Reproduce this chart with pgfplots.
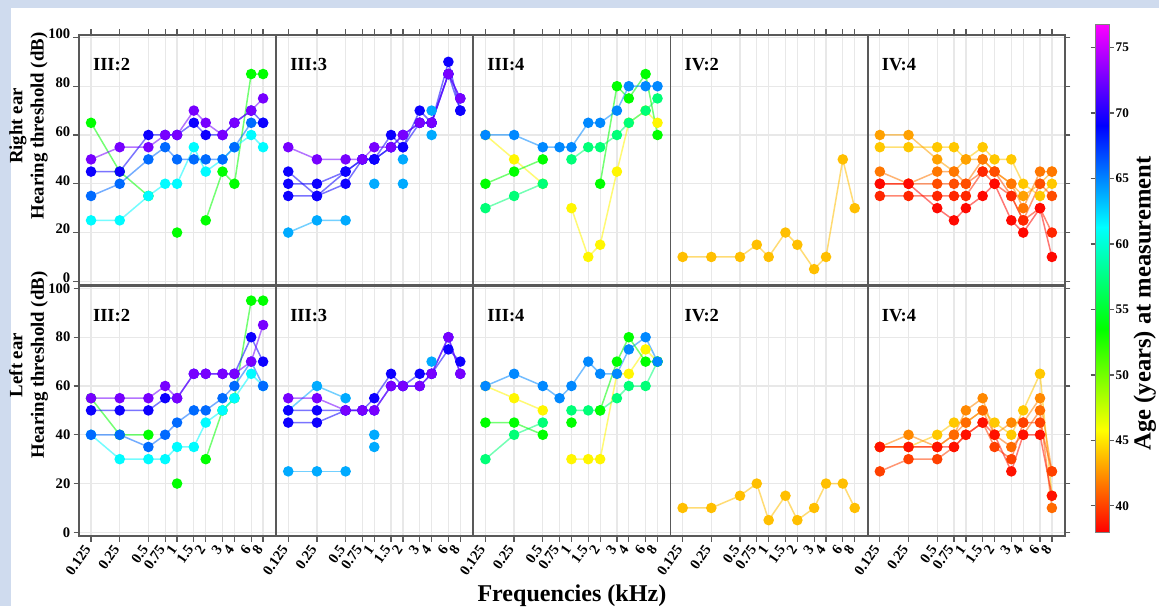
\documentclass[border=0pt]{standalone}
\usepackage{fontspec}
\setmainfont{Liberation Serif}
\usepackage{pgfplots}
\usepackage{pgfplotstable}
\pgfplotsset{compat=1.18}

\definecolor{bgblue}{HTML}{CFDBEE}
% series colours: the age's hue on the rainbow scale
\definecolor{hG}{HTML}{00FF00}
\definecolor{hC}{HTML}{00FBFF}
\definecolor{hB}{HTML}{006AFF}
\definecolor{hD}{HTML}{0D00FF}
\definecolor{hP}{HTML}{7700FF}
\definecolor{hL}{HTML}{00AAFF}
\definecolor{hM}{HTML}{0088FF}
\definecolor{hY}{HTML}{FFF600}
\definecolor{hS}{HTML}{00FF77}
\definecolor{hA}{HTML}{FFBF00}
\definecolor{r1}{HTML}{FFC800}
\definecolor{r2}{HTML}{FFA100}
\definecolor{r3}{HTML}{FF7700}
\definecolor{r4}{HTML}{FF4D00}
\definecolor{r5}{HTML}{FF2600}
\definecolor{r6}{HTML}{FF0800}
\definecolor{l2}{HTML}{FF8800}
\definecolor{l3}{HTML}{FF6A00}
\definecolor{l4}{HTML}{FF4000}
\definecolor{l5}{HTML}{FF1100}

% ---- right ear ----
\pgfplotstableread{
f     g   c   b   d   p
0.125 65  25  35  45  50
0.25  45  25  40  45  55
0.5   35  35  50  60  55
0.75  nan 40  55  60  60
1     20  40  50  60  60
1.5   nan 55  50  65  70
2     25  45  50  60  65
3     45  50  50  60  60
4     40  55  55  65  65
6     85  60  65  70  70
8     85  55  65  65  75
}\RA
\pgfplotstableread{
f     p   da  db  dc  la  lb
0.125 55  45  40  35  20  nan
0.25  50  35  40  35  25  nan
0.5   50  45  45  40  25  nan
0.75  50  50  50  50  nan nan
1     55  50  50  50  40  nan
1.5   55  60  55  55  nan nan
2     60  55  55  60  40  50
3     65  70  65  65  nan nan
4     65  65  65  65  60  70
6     85  90  85  85  nan nan
8     75  70  75  70  nan nan
}\RB
\pgfplotstableread{
f     b   y   g   s
0.125 60  60  40  30
0.25  60  50  45  35
0.5   55  40  50  40
0.75  55  nan nan nan
1     55  30  nan 50
1.5   65  10  nan 55
2     65  15  40  55
3     70  45  80  60
4     80  65  75  65
6     80  70  85  70
8     80  65  60  75
}\RC
\pgfplotstableread{
f     a
0.125 10
0.25  10
0.5   10
0.75  15
1     10
1.5   20
2     15
3     5
4     10
6     50
8     30
}\RD
\pgfplotstableread{
f     a   b   c   d   e   q
0.125 55  60  45  40  35  40
0.25  55  60  40  40  35  40
0.5   55  50  45  40  35  30
0.75  55  45  45  40  35  25
1     50  50  40  40  35  30
1.5   55  50  50  45  45  35
2     50  45  45  45  40  40
3     50  40  40  35  35  25
4     40  35  30  25  25  20
6     35  40  45  40  30  30
8     40  45  45  35  20  10
}\RE

% ---- left ear ----
\pgfplotstableread{
f     g   c   b   d   p
0.125 55  40  40  50  55
0.25  40  30  40  50  55
0.5   40  30  35  50  55
0.75  nan 30  40  55  60
1     20  35  45  55  55
1.5   nan 35  50  65  65
2     30  45  50  65  65
3     50  50  55  65  65
4     55  55  60  65  65
6     95  65  70  80  70
8     95  60  60  70  85
}\LA
\pgfplotstableread{
f     p   da  db  la  lb
0.125 55  50  45  50  25
0.25  55  50  45  60  25
0.5   50  50  50  55  25
0.75  50  50  50  nan nan
1     50  55  50  40  35
1.5   60  65  60  nan nan
2     60  60  60  nan nan
3     60  60  65  nan nan
4     65  65  65  70  nan
6     80  75  80  nan nan
8     65  70  65  nan nan
}\LB
\pgfplotstableread{
f     b   y   g   s
0.125 60  60  45  30
0.25  65  55  45  40
0.5   60  50  40  45
0.75  55  nan nan nan
1     60  30  45  50
1.5   70  30  nan 50
2     65  30  50  50
3     65  65  70  55
4     75  65  80  60
6     80  75  70  60
8     70  70  70  70
}\LC
\pgfplotstableread{
f     a
0.125 10
0.25  10
0.5   15
0.75  20
1     5
1.5   15
2     5
3     10
4     20
6     20
8     10
}\LD
\pgfplotstableread{
f     a   b   c   d   e
0.125 35  35  35  25  35
0.25  35  40  35  30  35
0.5   40  35  35  30  35
0.75  45  40  40  35  35
1     45  50  45  40  40
1.5   50  55  50  45  45
2     45  40  40  35  40
3     40  45  35  30  25
4     50  45  40  45  40
6     65  55  50  45  40
8     15  25  10  25  15
}\LE

% frequencies are placed on a log2 axis
\pgfplotsset{
  panel/.style={
    scale only axis, width=39.4mm, height=50mm, anchor=south west,
    xmin=-3.42, xmax=3.45, ymin=-1.5, ymax=101,
    xtick={-3,-2,-1,-0.415,0,0.585,1,1.585,2,2.585,3},
    xticklabels={0.125,0.25,0.5,0.75,1,1.5,2,3,4,6,8},
    ytick={0,20,40,60,80,100}, yticklabels={},
    xminorticks=false, yminorticks=false,
    grid=major, major grid style={black!9, line width=0.25mm},
    axis line style={black!65, line width=0.35mm},
    tick style={black!65, line width=0.25mm},
    ytick style={draw=none},
    tick align=outside, major tick length=1.1mm,
    unbounded coords=jump,
    table/x expr={log2(\thisrow{f})},
    tick label style={font=\bfseries\fontsize{8.3}{9}\selectfont},
    /pgf/number format/assume math mode=true,
  },
  toprow/.style={xtick pos=right, xticklabels={}},
  botrow/.style={xtick pos=left, xticklabel style={rotate=55, anchor=east}},
  firstcol/.style={ytick pos=left, yticklabels={0,20,40,60,80,100},
    ytick style={draw=black!65},
    yticklabel style={xshift=0.6mm},
    ylabel style={align=center, anchor=center,
      font=\bfseries\fontsize{10.7}{12.2}\selectfont}},
  lastcol/.style={ytick pos=right, ytick style={draw=black!65}},
  ser/.style={draw=#1, draw opacity=0.55, line width=0.3mm, mark=*, mark size=0.9mm,
    mark options={draw=#1, fill=#1, draw opacity=1, fill opacity=1}},
}
\tikzset{plab/.style={anchor=base west, font=\bfseries\fontsize{10.5}{12}\selectfont}}

\begin{document}
\begin{tikzpicture}
\path[use as bounding box, fill=bgblue] (0,0) rectangle (231.8mm,121.2mm);
\fill[white] (2.2mm,0) rectangle (231.8mm,119.6mm);

% ================= right ear =================
\begin{axis}[panel, toprow, firstcol, at={(15.8mm,64.2mm)},
  yticklabel style={yshift=0.7mm},
  ylabel={Right ear\\Hearing threshold (dB)},
  ylabel style={at={(axis description cs:-0.256,0.636)}}]
\addplot[ser=hG] table[y=g]{\RA};
\addplot[ser=hC] table[y=c]{\RA};
\addplot[ser=hB] table[y=b]{\RA};
\addplot[ser=hD] table[y=d]{\RA};
\addplot[ser=hP] table[y=p]{\RA};
\node[plab] at (rel axis cs:0.04,0.856) {III:2};
\end{axis}

\begin{axis}[panel, toprow, at={(55.24mm,64.2mm)}]
\addplot[ser=hL] table[y=la]{\RB};
\addplot[ser=hL] table[y=lb]{\RB};
\addplot[ser=hD] table[y=da]{\RB};
\addplot[ser=hD] table[y=db]{\RB};
\addplot[ser=hD] table[y=dc]{\RB};
\addplot[ser=hP] table[y=p]{\RB};
\node[plab] at (rel axis cs:0.04,0.856) {III:3};
\end{axis}

\begin{axis}[panel, toprow, at={(94.68mm,64.2mm)}]
\addplot[ser=hY] table[y=y]{\RC};
\addplot[ser=hS] table[y=s]{\RC};
\addplot[ser=hG] table[y=g]{\RC};
\addplot[ser=hM] table[y=b]{\RC};
\node[plab] at (rel axis cs:0.04,0.856) {III:4};
\end{axis}

\begin{axis}[panel, toprow, at={(134.12mm,64.2mm)}]
\addplot[ser=hA] table[y=a]{\RD};
\node[plab] at (rel axis cs:0.04,0.856) {IV:2};
\end{axis}

\begin{axis}[panel, toprow, lastcol, at={(173.56mm,64.2mm)}]
\addplot[ser=r1] table[y=a]{\RE};
\addplot[ser=r2] table[y=b]{\RE};
\addplot[ser=r3] table[y=c]{\RE};
\addplot[ser=r4] table[y=d]{\RE};
\addplot[ser=r5] table[y=e]{\RE};
\addplot[ser=r6] table[y=q]{\RE};
\node[plab] at (rel axis cs:0.04,0.856) {IV:4};
\end{axis}

% ================= left ear =================
\begin{axis}[panel, botrow, firstcol, at={(15.8mm,14.0mm)},
  ylabel={Left ear\\Hearing threshold (dB)},
  ylabel style={at={(axis description cs:-0.256,0.684)}}]
\addplot[ser=hG] table[y=g]{\LA};
\addplot[ser=hC] table[y=c]{\LA};
\addplot[ser=hB] table[y=b]{\LA};
\addplot[ser=hD] table[y=d]{\LA};
\addplot[ser=hP] table[y=p]{\LA};
\node[plab] at (rel axis cs:0.04,0.856) {III:2};
\end{axis}

\begin{axis}[panel, botrow, at={(55.24mm,14.0mm)}]
\addplot[ser=hL] table[y=la]{\LB};
\addplot[ser=hL] table[y=lb]{\LB};
\addplot[ser=hD] table[y=da]{\LB};
\addplot[ser=hD] table[y=db]{\LB};
\addplot[ser=hP] table[y=p]{\LB};
\node[plab] at (rel axis cs:0.04,0.856) {III:3};
\end{axis}

\begin{axis}[panel, botrow, at={(94.68mm,14.0mm)},
  xlabel={Frequencies (kHz)},
  xlabel style={yshift=1.2mm, font=\bfseries\fontsize{13.7}{15}\selectfont}]
\addplot[ser=hY] table[y=y]{\LC};
\addplot[ser=hS] table[y=s]{\LC};
\addplot[ser=hG] table[y=g]{\LC};
\addplot[ser=hM] table[y=b]{\LC};
\node[plab] at (rel axis cs:0.04,0.856) {III:4};
\end{axis}

\begin{axis}[panel, botrow, at={(134.12mm,14.0mm)}]
\addplot[ser=hA] table[y=a]{\LD};
\node[plab] at (rel axis cs:0.04,0.856) {IV:2};
\end{axis}

\begin{axis}[panel, botrow, lastcol, at={(173.56mm,14.0mm)}]
\addplot[ser=r1] table[y=a]{\LE};
\addplot[ser=l2] table[y=b]{\LE};
\addplot[ser=l3] table[y=c]{\LE};
\addplot[ser=l4] table[y=d]{\LE};
\addplot[ser=l5] table[y=e]{\LE};
\node[plab] at (rel axis cs:0.04,0.856) {IV:4};
\end{axis}

% ================= colour bar =================
\begin{axis}[hide axis, scale only axis, width=3mm, height=101.6mm,
  at={(219mm,14.8mm)}, anchor=south west,
  xmin=0, xmax=1, ymin=0, ymax=1,
  colormap={hsvr}{rgb=(1,0,0) rgb=(1,1,0) rgb=(0,1,0) rgb=(0,1,1) rgb=(0,0,1) rgb=(1,0,1)},
  point meta min=38, point meta max=76.8,
  colorbar,
  colorbar style={at={(parent axis.south west)}, anchor=south west, xshift=-3mm,
    scale only axis, width=2.8mm, height=101.6mm,
    ytick={40,45,...,75}, yticklabel pos=right,
    tick align=outside, major tick length=0.9mm,
    tick style={black!65, line width=0.25mm},
    axis line style={black!50},
    yticklabel style={xshift=-0.8mm, font=\bfseries\fontsize{7.5}{8}\selectfont},
    /pgf/number format/assume math mode=true,
    ylabel={Age (years) at measurement},
    ylabel style={at={(axis description cs:3.55,0.45)}, anchor=center,
      font=\bfseries\fontsize{14}{16}\selectfont}}]
\addplot[draw=none] coordinates {(0,0)};
\end{axis}
\end{tikzpicture}
\end{document}
